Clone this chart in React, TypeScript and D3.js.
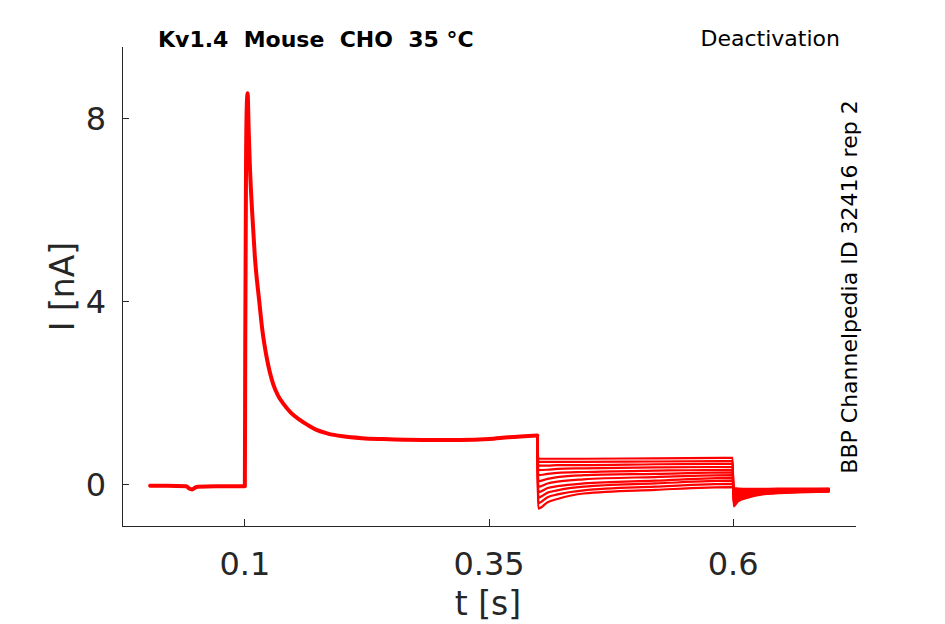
import React from 'react';
import * as d3 from 'd3';

// ---- data ----
const xTicks = [0.1, 0.35, 0.6];
const xTickLabels = ['0.1', '0.35', '0.6'];
const yTicks = [0, 4, 8];
const yTickLabels = ['0', '4', '8'];

// holding period before the pulse
const preT = [0.003, 0.02, 0.04, 0.043, 0.046, 0.049, 0.052, 0.07, 0.0995];
const preI = [-0.02, -0.02, -0.03, -0.08, -0.1, -0.06, -0.04, -0.03, -0.03];

// activation pulse (shared by all sweeps)
const actT = [0.1, 0.1004, 0.1012, 0.102, 0.1028, 0.104, 0.1051, 0.1075, 0.1102, 0.1148, 0.1181, 0.1222, 0.129, 0.134, 0.1392, 0.147, 0.1563, 0.165, 0.1734, 0.185, 0.2003, 0.22, 0.2413, 0.2823, 0.32, 0.35, 0.37, 0.3995];
const actI = [-0.03, 3.0, 7.0, 8.3, 8.56, 7.7, 7.0, 5.95, 5.0, 4.0, 3.35, 2.8, 2.2, 1.95, 1.78, 1.58, 1.42, 1.3, 1.2, 1.12, 1.06, 1.02, 1.0, 0.98, 0.98, 1.0, 1.04, 1.08];

// test step (deactivation) per sweep
const tailT = [0.4005, 0.41, 0.42, 0.447, 0.52, 0.5995];
const tail1 = [0.57, 0.57, 0.57, 0.57, 0.58, 0.59];
const tail2 = [0.5, 0.5, 0.5, 0.5, 0.51, 0.52];
const tail3 = [0.42, 0.42, 0.43, 0.43, 0.45, 0.46];
const tail4 = [0.32, 0.33, 0.35, 0.36, 0.38, 0.39];
const tail5 = [0.21, 0.24, 0.26, 0.28, 0.31, 0.33];
const tail6 = [0.08, 0.13, 0.17, 0.21, 0.24, 0.27];
const tail7 = [-0.04, 0.03, 0.07, 0.12, 0.17, 0.21];
const tail8 = [-0.16, -0.07, -0.03, 0.03, 0.09, 0.15];
const tail9 = [-0.28, -0.17, -0.12, -0.04, 0.03, 0.09];
const tail10 = [-0.4, -0.27, -0.21, -0.12, -0.04, 0.02];
const tail11 = [-0.52, -0.38, -0.31, -0.19, -0.11, -0.05];

// return to holding
const postT = [0.6005, 0.605, 0.615, 0.63, 0.66, 0.698];
const post1 = [-0.47, -0.36, -0.28, -0.21, -0.17, -0.15];
const post2 = [-0.43, -0.33, -0.26, -0.2, -0.16, -0.14];
const post3 = [-0.39, -0.3, -0.24, -0.19, -0.15, -0.14];
const post4 = [-0.35, -0.27, -0.22, -0.18, -0.15, -0.13];
const post5 = [-0.31, -0.24, -0.2, -0.17, -0.14, -0.13];
const post6 = [-0.27, -0.21, -0.18, -0.16, -0.14, -0.12];
const post7 = [-0.23, -0.19, -0.17, -0.15, -0.13, -0.12];
const post8 = [-0.19, -0.17, -0.15, -0.14, -0.12, -0.11];
const post9 = [-0.15, -0.14, -0.13, -0.12, -0.11, -0.1];
const post10 = [-0.11, -0.11, -0.11, -0.1, -0.1, -0.09];
const post11 = [-0.07, -0.08, -0.09, -0.09, -0.08, -0.08];

const tails = [tail1, tail2, tail3, tail4, tail5, tail6, tail7, tail8, tail9, tail10, tail11];
const posts = [post1, post2, post3, post4, post5, post6, post7, post8, post9, post10, post11];

const W = 945;
const H = 624;
const AX = '#262626';
const RED = '#ff0000';
const FONT = '"DejaVu Sans", sans-serif';

export default function App() {
  const x = d3.scaleLinear().domain([-0.0258, 0.7258]).range([122, 856]);
  const y = d3.scaleLinear().domain([-0.9, 9.57]).range([526, 47]);
  const line = d3
    .line<[number, number]>()
    .x((d) => x(d[0]))
    .y((d) => y(d[1]))
    .curve(d3.curveMonotoneX);

  const mainPts: [number, number][] = [
    ...preT.map((t, i) => [t, preI[i]] as [number, number]),
    ...actT.map((t, i) => [t, actI[i]] as [number, number]),
  ];

  const sweepPaths = tails.map((tl, k) => {
    const pts: [number, number][] = [
      [actT[actT.length - 1], actI[actI.length - 1]],
      ...tailT.map((t, i) => [t, tl[i]] as [number, number]),
      ...postT.map((t, i) => [t, posts[k][i]] as [number, number]),
    ];
    return line(pts) || '';
  });

  const [x0, x1] = x.range();
  const [yb, yt] = y.range();

  return (
    <svg
      width={W}
      height={H}
      style={{ position: 'absolute', left: 0, top: 0, background: '#fff' }}
      fontFamily={FONT}
    >
      <rect x={0} y={0} width={W} height={H} fill="#fff" />
      {/* traces */}
      <g fill="none" stroke={RED} strokeLinejoin="round" strokeLinecap="round">
        {sweepPaths.map((d, i) => (
          <path key={i} d={d} strokeWidth={2.2} />
        ))}
        <path d={line(mainPts) || ''} strokeWidth={4} />
      </g>
      {/* axes */}
      <g stroke={AX} strokeWidth={1} fill="none" shapeRendering="crispEdges">
        <line x1={x0} y1={yb + 0.5} x2={x1} y2={yb + 0.5} />
        <line x1={x0 + 0.5} y1={yb} x2={x0 + 0.5} y2={yt} />
        {xTicks.map((t) => (
          <line key={'xt' + t} x1={x(t)} x2={x(t)} y1={yb} y2={yb - 7} />
        ))}
        {yTicks.map((v) => (
          <line key={'yt' + v} x1={x0} x2={x0 + 7} y1={y(v)} y2={y(v)} />
        ))}
      </g>
      <g fill={AX} fontSize={32}>
        {xTicks.map((t, i) => (
          <text key={'xl' + t} x={x(t)} y={575} textAnchor="middle">
            {xTickLabels[i]}
          </text>
        ))}
        {yTicks.map((v, i) => (
          <text key={'yl' + v} x={106} y={y(v)} textAnchor="end" dominantBaseline="central">
            {yTickLabels[i]}
          </text>
        ))}
      </g>
      <text x={488} y={615} textAnchor="middle" fontSize={33} fill={AX}>
        t [s]
      </text>
      <text
        transform={`translate(74,${(yb + yt) / 2}) rotate(-90)`}
        textAnchor="middle"
        fontSize={33}
        fill={AX}
      >
        I [nA]
      </text>
      <text x={158} y={47} fontSize={22} fontWeight="bold" fill="#000" style={{ whiteSpace: 'pre' }}>
        {'Kv1.4  Mouse  CHO  35 °C'}
      </text>
      <text x={840} y={46} fontSize={22} textAnchor="end" fill="#000">
        Deactivation
      </text>
      <text
        transform={`translate(857,287) rotate(-90)`}
        textAnchor="middle"
        fontSize={22}
        fill="#000"
      >
        BBP Channelpedia ID 32416 rep 2
      </text>
    </svg>
  );
}
